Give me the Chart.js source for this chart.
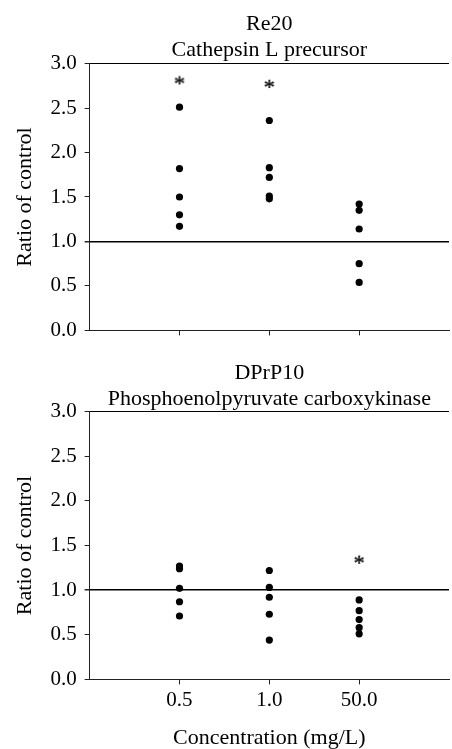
<!DOCTYPE html>
<html>
<head>
<meta charset="utf-8">
<script src="https://cdn.jsdelivr.net/npm/chart.js@4"></script>
<style>
    html, body { margin: 0; padding: 0; background: #fff; overflow: hidden; }
    body { width: 452px; height: 749px; position: relative; }
    .panel { position: absolute; left: 0; }
</style>
</head>
<body>
<div class="panel" style="top:0"><canvas id="viz-top" width="454" height="351"></canvas></div>
<div class="panel" style="top:345px"><canvas id="viz-bottom" width="454" height="406"></canvas></div>
<script>
const concentrations = ["0.5", "1.0", "50.0"];
const yTicks = [0, 0.5, 1.0, 1.5, 2.0, 2.5, 3.0];

// Re20 - Cathepsin L precursor
const re20Low = [2.51, 1.82, 1.50, 1.30, 1.17];
const re20Mid = [2.36, 1.83, 1.72, 1.51, 1.48];
const re20High = [1.42, 1.35, 1.14, 0.75, 0.54];
const re20Stars = [2.81, 2.77, null];

// DPrP10 - Phosphoenolpyruvate carboxykinase
const dprpLow = [1.27, 1.24, 1.02, 0.87, 0.71];
const dprpMid = [1.22, 1.03, 0.92, 0.73, 0.44];
const dprpHigh = [0.89, 0.77, 0.67, 0.58, 0.51];
const dprpStars = [null, null, 1.34];

const FONT = "'Liberation Serif', 'Times New Roman', serif";

// asterisk glyph used as point style for significance marks
function makeStar() {
    const c = document.createElement("canvas");
    c.width = 16;
    c.height = 16;
    const ctx = c.getContext("2d");
    ctx.fillStyle = "#000";
    ctx.strokeStyle = "#000";
    ctx.lineWidth = 0.4;
    ctx.font = "22px " + FONT;
    ctx.textAlign = "center";
    ctx.textBaseline = "alphabetic";
    ctx.fillText("*", 8, 18);
    ctx.strokeText("*", 8, 18);
    return c;
}
const starImg = makeStar();

function toPoints(groups) {
    let pts = [];
    groups.forEach((vals, i) => {
        vals.forEach((v) => {
            if (v !== null) pts.push({ x: i + 1, y: v });
        });
    });
    return pts;
}

function buildPanel(id, title, groups, stars, opts) {
    const ctx = document.getElementById(id).getContext("2d");

    return new Chart(ctx, {
        type: "scatter",
        data: {
            datasets: [
                {
                    label: "values",
                    data: toPoints(groups),
                    pointRadius: 3.6,
                    pointBackgroundColor: "#000",
                    pointBorderWidth: 0,
                },
                {
                    label: "significant",
                    data: toPoints(stars.map((s) => [s])),
                    pointStyle: starImg,
                },
            ],
        },
        options: {
            responsive: false,
            animation: false,
            layout: { padding: { left: 0, right: 1, top: 0, bottom: opts.padBottom } },
            plugins: {
                legend: { display: false },
                tooltip: { enabled: false },
                title: {
                    display: true,
                    text: title,
                    fullSize: false,
                    color: "#000",
                    font: { family: FONT, size: 22, weight: "normal", lineHeight: 1.15 },
                    padding: opts.titlePad,
                },
            },
            scales: {
                x: {
                    type: "linear",
                    min: 0,
                    max: 4,
                    afterBuildTicks: (axis) => {
                        axis.ticks = concentrations.map((c, i) => ({ value: i + 1 }));
                    },
                    border: { display: true, color: "#222", width: 1 },
                    grid: {
                        drawOnChartArea: false,
                        drawTicks: true,
                        tickLength: 5,
                        tickColor: "#222",
                    },
                    ticks: {
                        display: opts.showX,
                        color: "#000",
                        padding: 3,
                        font: { family: FONT, size: 21 },
                        callback: (v) => concentrations[v - 1],
                    },
                    title: {
                        display: opts.showX,
                        text: "Concentration (mg/L)",
                        color: "#000",
                        font: { family: FONT, size: 22 },
                        padding: { top: 9, bottom: 0 },
                    },
                },
                y: {
                    min: 0,
                    max: 3,
                    afterBuildTicks: (axis) => {
                        axis.ticks = yTicks.map((v) => ({ value: v }));
                    },
                    border: { display: true, color: "#222", width: 1 },
                    grid: {
                        drawOnChartArea: true,
                        drawTicks: true,
                        tickLength: 5,
                        tickColor: "#222",
                        color: (c) => (c.tick && (c.tick.value === 1 || c.tick.value === 3) ? "#000" : "rgba(0,0,0,0)"),
                        lineWidth: (c) => (c.tick && c.tick.value === 1 ? 1.5 : 1),
                    },
                    ticks: {
                        color: "#000",
                        padding: 8,
                        font: { family: FONT, size: 21 },
                        callback: (v) => v.toFixed(1),
                    },
                    title: {
                        display: true,
                        text: "Ratio of control",
                        color: "#000",
                        font: { family: FONT, size: 22 },
                        padding: { top: 12, bottom: 4 },
                    },
                },
            },
        },
    });
}

buildPanel("viz-top", ["Re20", "Cathepsin L precursor"], [re20Low, re20Mid, re20High], re20Stars, {
    showX: false,
    padBottom: 0,
    titlePad: { top: 12, bottom: 1 },
});

buildPanel("viz-bottom", ["DPrP10", "Phosphoenolpyruvate carboxykinase"], [dprpLow, dprpMid, dprpHigh], dprpStars, {
    showX: true,
    padBottom: 0,
    titlePad: { top: 16, bottom: 0 },
});
</script>
</body>
</html>
